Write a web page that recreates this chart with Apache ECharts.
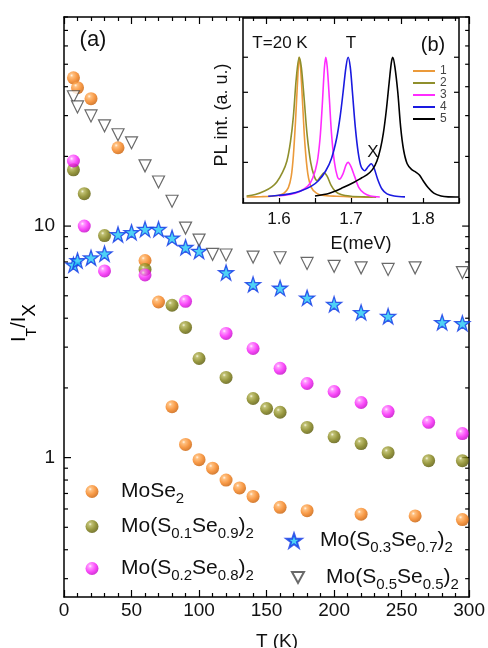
<!DOCTYPE html>
<html><head><meta charset="utf-8">
<script src="https://cdn.jsdelivr.net/npm/echarts@6/dist/echarts.min.js"></script>
<style>html,body{margin:0;padding:0;background:#fff}#c{width:488px;height:648px}</style>
</head><body><div id="c"></div>
<script>
const FONT = "'Liberation Sans', Arial, sans-serif";

// ---- panel (a): I_T / I_X versus T ----
const tMoSe2 = [7, 10, 20, 40, 60, 70, 80, 90, 100, 110, 120, 130, 140, 160, 180, 220, 260, 295];
const vMoSe2 = [43.7, 39.6, 35.5, 21.8, 7.1, 4.7, 1.66, 1.14, 0.98, 0.90, 0.80, 0.74, 0.68, 0.61, 0.59, 0.57, 0.56, 0.54];

const tS01 = [7, 15, 30, 60, 80, 90, 100, 120, 140, 150, 160, 180, 200, 220, 240, 270, 295];
const vS01 = [17.5, 13.8, 9.1, 6.5, 4.55, 3.65, 2.68, 2.22, 1.80, 1.63, 1.57, 1.35, 1.23, 1.15, 1.05, 0.97, 0.97];

const tS02 = [7, 15, 30, 60, 90, 120, 140, 160, 180, 200, 220, 240, 270, 295];
const vS02 = [19.1, 10.0, 6.4, 6.15, 4.73, 3.44, 2.96, 2.43, 2.09, 1.93, 1.73, 1.58, 1.42, 1.27];

const tS03 = [7, 10, 20, 30, 40, 50, 60, 70, 80, 90, 100, 120, 140, 160, 180, 200, 220, 240, 280, 295];
const vS03 = [6.8, 7.1, 7.3, 7.6, 9.2, 9.4, 9.7, 9.7, 8.9, 8.1, 7.8, 6.3, 5.6, 5.4, 4.9, 4.6, 4.24, 4.08, 3.84, 3.8];

const tS05 = [7, 10, 20, 30, 40, 50, 60, 70, 80, 90, 100, 110, 120, 140, 160, 180, 200, 220, 240, 260, 295];
const vS05 = [36.2, 32.7, 29.9, 27.1, 24.8, 22.9, 18.2, 15.5, 12.8, 9.8, 8.7, 7.55, 7.5, 7.35, 7.3, 6.9, 6.7, 6.6, 6.5, 6.6, 6.3];

const seriesNames = ['MoSe2', 'Mo(S0.1Se0.9)2', 'Mo(S0.2Se0.8)2', 'Mo(S0.3Se0.7)2', 'Mo(S0.5Se0.5)2'];
const legendRich = {
  MoSe2: '{m|MoSe}{s|2}',
  'Mo(S0.1Se0.9)2': '{m|Mo(S}{s|0.1}{m|Se}{s|0.9}{m|)}{s|2}',
  'Mo(S0.2Se0.8)2': '{m|Mo(S}{s|0.2}{m|Se}{s|0.8}{m|)}{s|2}',
  'Mo(S0.3Se0.7)2': '{m|Mo(S}{s|0.3}{m|Se}{s|0.7}{m|)}{s|2}',
  'Mo(S0.5Se0.5)2': '{m|Mo(S}{s|0.5}{m|Se}{s|0.5}{m|)}{s|2}'
};
const xTicksA = [0, 300, 50];         // min, max, interval
const yRangeA = [0.25, 80];
const yMajorA = [1, 10];
const yMinorA = [0.3, 0.4, 0.5, 0.6, 0.7, 0.8, 0.9, 2, 3, 4, 5, 6, 7, 8, 9, 20, 30, 40, 50, 60, 70, 80];

// ---- panel (b): PL spectra at T = 20 K ----
const specNames = ['1', '2', '3', '4', '5'];
const spec1 = [[1.555,0.003],[1.575,0.005],[1.59,0.008],[1.60,0.015],[1.607,0.03],[1.613,0.07],[1.617,0.15],[1.620,0.3],[1.623,0.55],[1.626,0.85],[1.628,1.0],[1.630,0.92],[1.633,0.65],[1.636,0.38],[1.640,0.17],[1.645,0.07],[1.652,0.03],[1.66,0.015],[1.68,0.008],[1.70,0.004],[1.73,0.002]];
const spec2 = [[1.555,0.01],[1.567,0.02],[1.58,0.045],[1.59,0.075],[1.597,0.11],[1.605,0.18],[1.611,0.26],[1.616,0.4],[1.620,0.58],[1.624,0.85],[1.628,1.0],[1.631,0.93],[1.635,0.7],[1.639,0.45],[1.644,0.25],[1.649,0.15],[1.653,0.12],[1.658,0.15],[1.6625,0.175],[1.667,0.15],[1.672,0.09],[1.678,0.045],[1.686,0.02],[1.70,0.008],[1.72,0.004],[1.735,0.002]];
const spec3 = [[1.60,0.01],[1.615,0.02],[1.628,0.04],[1.64,0.08],[1.647,0.14],[1.653,0.25],[1.657,0.42],[1.660,0.65],[1.663,0.92],[1.665,1.0],[1.667,0.93],[1.670,0.7],[1.673,0.45],[1.677,0.25],[1.681,0.15],[1.684,0.13],[1.689,0.17],[1.693,0.23],[1.696,0.25],[1.700,0.22],[1.705,0.15],[1.711,0.07],[1.718,0.03],[1.727,0.01],[1.74,0.003]];
const spec4 = [[1.585,0.008],[1.60,0.015],[1.615,0.025],[1.63,0.045],[1.645,0.08],[1.655,0.12],[1.665,0.19],[1.673,0.28],[1.680,0.42],[1.685,0.58],[1.689,0.75],[1.693,0.93],[1.696,1.0],[1.699,0.93],[1.702,0.75],[1.706,0.5],[1.710,0.32],[1.714,0.22],[1.719,0.19],[1.724,0.22],[1.728,0.24],[1.732,0.21],[1.737,0.13],[1.743,0.06],[1.750,0.025],[1.760,0.01],[1.775,0.004]];
const spec5 = [[1.65,0.01],[1.67,0.03],[1.689,0.07],[1.705,0.11],[1.715,0.14],[1.722,0.16],[1.730,0.2],[1.736,0.26],[1.741,0.35],[1.745,0.46],[1.749,0.62],[1.753,0.82],[1.756,0.96],[1.758,1.0],[1.761,0.93],[1.765,0.75],[1.769,0.5],[1.773,0.34],[1.778,0.24],[1.784,0.2],[1.790,0.18],[1.795,0.16],[1.800,0.12],[1.807,0.07],[1.815,0.03],[1.825,0.01],[1.835,0.004],[1.85,0.003]];
const specColors = ['#eb9a3a', '#8f8f2c', '#ff2cff', '#1a1ae0', '#000000'];
const xRangeB = [1.55, 1.85, 0.05];
const yRangeB = [-0.04, 1.28];
const yTicksB = [0.25, 0.5, 0.75, 1.0];

function pairs(t, v) { return t.map((x, i) => [x, v[i]]); }
function ball(c0, c1, c2, c3) {
  return { type: 'radial', x: 0.36, y: 0.32, r: 0.72,
    colorStops: [{offset: 0, color: c0}, {offset: 0.18, color: c1}, {offset: 0.6, color: c2}, {offset: 1, color: c3}] };
}
const STAR = 'path://M50,2 L61.8,36.2 L97.6,36.2 L68.6,57.4 L79.6,91.6 L50,70.4 L20.4,91.6 L31.4,57.4 L2.4,36.2 L38.2,36.2 Z';
const TRI_DOWN = 'path://M0,0 L20,0 L10,18 Z';

const chart = echarts.init(document.getElementById('c'), null, {renderer: 'canvas'});

const axisLineBlack = {show: true, onZero: false, lineStyle: {color: '#000', width: 1.5}};
function legRich(gap) {
  return {
    g: {width: gap, lineHeight: 30},
    m: {fontSize: 21, lineHeight: 30, fontFamily: FONT, color: '#111'},
    s: {fontSize: 15, lineHeight: 6, verticalAlign: 'bottom', fontFamily: FONT, color: '#111'}
  };
}
// icon centre (cx, cy), icon size, x where the text begins
function leg(name, cx, cy, size, textX, icon) {
  const left = cx - size / 2;
  const gap = textX - (left + size + 5);
  return {data: [icon ? {name: name, icon: icon} : name], left: left, top: cy - 15, itemWidth: size, itemHeight: size, padding: 0,
    symbolKeepAspect: true, selectedMode: false, formatter: n => '{g| }' + legendRich[n],
    textStyle: {rich: legRich(gap)}};
}

const option = {
  animation: false,
  backgroundColor: '#fff',
  grid: [
    {left: 64, top: 17, width: 406, height: 580},
    {left: 243, top: 18, width: 216, height: 185, show: true, backgroundColor: '#fff', borderWidth: 0}
  ],
  xAxis: [
    {gridIndex: 0, type: 'value', min: xTicksA[0], max: xTicksA[1], interval: xTicksA[2], position: 'bottom',
     axisLine: axisLineBlack, splitLine: {show: false},
     axisTick: {inside: true, length: 7, lineStyle: {color: '#000', width: 1.2}},
     minorTick: {show: true, splitNumber: 5, length: 4, lineStyle: {color: '#000', width: 1.2}},
     axisLabel: {margin: 4, fontSize: 19, fontFamily: FONT, color: '#111'}},
    {gridIndex: 0, type: 'value', min: xTicksA[0], max: xTicksA[1], interval: xTicksA[2], position: 'top',
     axisLine: axisLineBlack, splitLine: {show: false},
     axisTick: {inside: true, length: 7, lineStyle: {color: '#000', width: 1.2}},
     minorTick: {show: true, splitNumber: 5, length: 4, lineStyle: {color: '#000', width: 1.2}},
     axisLabel: {show: false}},
    {gridIndex: 1, type: 'value', min: xRangeB[0], max: xRangeB[1], interval: xRangeB[2], position: 'bottom',
     axisLine: axisLineBlack, splitLine: {show: false},
     axisTick: {inside: true, length: 5, lineStyle: {color: '#000', width: 1.2}},
     minorTick: {show: false},
     axisLabel: {margin: 8, fontSize: 17, fontFamily: FONT, color: '#111',
       formatter: v => (Math.abs(v * 10 - Math.round(v * 10)) < 1e-6 ? v.toFixed(1) : '')}},
    {gridIndex: 1, type: 'value', min: xRangeB[0], max: xRangeB[1], position: 'top',
     axisLine: axisLineBlack, splitLine: {show: false}, axisTick: {show: false}, axisLabel: {show: false}}
  ],
  yAxis: [
    {gridIndex: 0, type: 'log', logBase: 10, min: yRangeA[0], max: yRangeA[1], position: 'left',
     axisLine: axisLineBlack, splitLine: {show: false}, axisTick: {show: false},
     axisLabel: {margin: 9, fontSize: 19, fontFamily: FONT, color: '#111', showMinLabel: false, showMaxLabel: false,
       formatter: v => (yMajorA.some(m => Math.abs(v - m) < 1e-6 * m) ? String(Math.round(v)) : '')}},
    {gridIndex: 0, type: 'log', logBase: 10, min: yRangeA[0], max: yRangeA[1], position: 'right',
     axisLine: axisLineBlack, splitLine: {show: false}, axisTick: {show: false}, axisLabel: {show: false}},
    {gridIndex: 1, type: 'value', min: yRangeB[0], max: yRangeB[1], position: 'left',
     axisLine: axisLineBlack, splitLine: {show: false}, axisTick: {show: false}, axisLabel: {show: false}},
    {gridIndex: 1, type: 'value', min: yRangeB[0], max: yRangeB[1], position: 'right',
     axisLine: axisLineBlack, splitLine: {show: false}, axisTick: {show: false}, axisLabel: {show: false}}
  ],
  legend: [
    leg(seriesNames[0], 92, 496, 13, 121),
    leg(seriesNames[1], 92, 531, 13, 121),
    leg(seriesNames[2], 92, 573, 13, 121),
    leg(seriesNames[3], 293, 545, 15, 319),
    leg(seriesNames[4], 297, 582, 12, 325, TRI_DOWN),
    {data: specNames, left: 413, top: 65, orient: 'vertical', icon: 'rect', itemWidth: 22, itemHeight: 2, itemGap: 0,
     padding: 0, selectedMode: false, textStyle: {fontSize: 12, lineHeight: 11, fontFamily: FONT, color: '#444'}}
  ],
  series: [
    {name: seriesNames[0], type: 'scatter', xAxisIndex: 0, yAxisIndex: 0, symbol: 'circle', symbolSize: 13,
     itemStyle: {color: ball('#fff4e6', '#ffb060', '#f57f17', '#c65a00')}, data: pairs(tMoSe2, vMoSe2)},
    {name: seriesNames[1], type: 'scatter', xAxisIndex: 0, yAxisIndex: 0, symbol: 'circle', symbolSize: 13,
     itemStyle: {color: ball('#f4f4d8', '#b0b050', '#7e7e10', '#535300')}, data: pairs(tS01, vS01)},
    {name: seriesNames[2], type: 'scatter', xAxisIndex: 0, yAxisIndex: 0, symbol: 'circle', symbolSize: 13,
     itemStyle: {color: ball('#fff0ff', '#ff80ff', '#f81cf8', '#c000c4')}, data: pairs(tS02, vS02)},
    {name: seriesNames[3], type: 'scatter', xAxisIndex: 0, yAxisIndex: 0, symbol: STAR, symbolSize: 15,
     itemStyle: {color: '#22c6f4', borderColor: '#1236e6', borderWidth: 1.3}, data: pairs(tS03, vS03)},
    {name: seriesNames[4], type: 'scatter', xAxisIndex: 0, yAxisIndex: 0, symbol: 'triangle', symbolRotate: 180, symbolSize: 12,
     itemStyle: {color: '#fff', borderColor: '#444', borderWidth: 1.2}, data: pairs(tS05, vS05)}
  ].concat([spec1, spec2, spec3, spec4, spec5].map((d, i) => ({
    name: specNames[i], type: 'line', xAxisIndex: 2, yAxisIndex: 2, symbol: 'none', smooth: 0.3,
    lineStyle: {color: specColors[i], width: 1.6}, itemStyle: {color: specColors[i]}, data: d
  })))
};
chart.setOption(option);

// ticks of the y axes placed through the library's scales
const g = [];
function tick(x1, y1, x2, y2) {
  return {type: 'line', silent: true, shape: {x1, y1, x2, y2}, style: {stroke: '#000', lineWidth: 1.2}};
}
const xl = chart.convertToPixel({xAxisIndex: 0}, xTicksA[0]);
const xr = chart.convertToPixel({xAxisIndex: 0}, xTicksA[1]);
yMajorA.forEach(v => { const y = chart.convertToPixel({yAxisIndex: 0}, v); g.push(tick(xl, y, xl + 7, y), tick(xr, y, xr - 7, y)); });
yMinorA.forEach(v => { const y = chart.convertToPixel({yAxisIndex: 0}, v); g.push(tick(xl, y, xl + 4, y), tick(xr, y, xr - 4, y)); });
const bl = chart.convertToPixel({xAxisIndex: 2}, xRangeB[0]);
const br = chart.convertToPixel({xAxisIndex: 2}, xRangeB[1]);
yTicksB.forEach(v => { const y = chart.convertToPixel({yAxisIndex: 2}, v); g.push(tick(bl, y, bl + 5, y), tick(br, y, br - 5, y)); });

const txt = (text, x, y, size, extra) => Object.assign({type: 'text', silent: true, x, y,
  style: {text, fontSize: size, fontFamily: FONT, fill: '#111', align: 'center', verticalAlign: 'middle'}}, extra || {});
g.push(
  txt('(a)', 93, 40, 22),
  txt('(b)', 433, 45, 20),
  txt('T=20 K', 280, 43, 17),
  txt('T', 351, 43, 17),
  txt('X', 373, 152, 17),
  txt('E(meV)', 361, 244, 18),
  txt('T (K)', 277, 642, 19),
  {type: 'text', silent: true, x: 222, y: 115, rotation: Math.PI / 2,
   style: {text: 'PL int. (a. u.)', fontSize: 18, fontFamily: FONT, fill: '#111', align: 'center', verticalAlign: 'middle'}},
  {type: 'text', silent: true, x: 19, y: 323, rotation: Math.PI / 2,
   style: {text: '{m|I}{t|T}{m|/I}{x|X}', align: 'center', verticalAlign: 'middle',
     rich: {m: {fontSize: 20, lineHeight: 40, fontFamily: FONT, color: '#111'},
            t: {fontSize: 14, lineHeight: 2, verticalAlign: 'bottom', fontFamily: FONT, color: '#111'},
            x: {fontSize: 19, lineHeight: 5, verticalAlign: 'bottom', fontFamily: FONT, color: '#111'}}}}
);
chart.setOption({graphic: g});
</script></body></html>
